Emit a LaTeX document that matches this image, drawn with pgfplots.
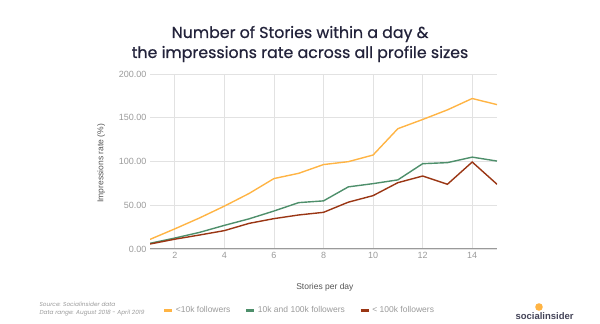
\documentclass[border=0pt]{standalone}
\usepackage{fontspec}
\setmainfont{Liberation Sans}
\newfontfamily\titlefont{Poppins}[FakeBold=0.6]
\newfontfamily\srcfont{Poppins}
\usepackage{pgfplots}
\pgfplotsset{compat=1.18}
\definecolor{corange}{HTML}{FFB444}
\definecolor{cgreen}{HTML}{4E8F6B}
\definecolor{cred}{HTML}{9A3614}
\definecolor{ctitle}{HTML}{22223A}
\definecolor{cgrid}{HTML}{E2E2E2}
\definecolor{ctick}{HTML}{9A9A9A}
\definecolor{clabel}{HTML}{555555}
\begin{document}
\begin{tikzpicture}
\path[use as bounding box] (0,0) rectangle (600bp,324bp);
\node[font=\titlefont\fontsize{15.8bp}{18bp}\selectfont, text=ctitle, align=center] at (300bp,280bp) {Number of Stories within a day \&\\[2bp]the impressions rate across all profile sizes};
\begin{axis}[
  at={(150bp,75bp)}, anchor=south west,
  scale only axis, width=347bp, height=175bp,
  xmin=1, xmax=15, ymin=0, ymax=200,
  xtick={2,4,...,14}, ytick={0,50,...,200},
  grid=major, grid style={cgrid, line width=0.8bp},
  axis line style={draw=none},
  major tick length=0pt,
  tick label style={font=\fontsize{9bp}{10bp}\selectfont, text=ctick},
  /pgf/number format/assume math mode=true,
  yticklabel style={/pgf/number format/.cd, fixed, fixed zerofill, precision=2},
  xticklabel style={/pgf/number format/.cd, fixed, precision=0},
  ylabel={Impressions rate (\%)},
  ylabel style={at={(axis description cs:-0.141,0.49)}, anchor=center, font=\fontsize{8.5bp}{10bp}\selectfont, text=clabel},
  xlabel={Stories per day},
  xlabel style={at={(axis description cs:0.504,-0.217)}, anchor=center, font=\fontsize{8.5bp}{10bp}\selectfont, text=clabel},
  legend columns=3,
  legend style={at={(axis description cs:0.43,-0.35)}, anchor=center, draw=none, fill=none,
    font=\fontsize{8.5bp}{10bp}\selectfont, text=ctick,
    /tikz/every even column/.append style={column sep=12bp}},
  legend image code/.code={\draw[line width=3.5bp] (0bp,0bp) -- (8bp,0bp);},
]
\addplot[corange, line width=1.4bp] coordinates {
(1,11) (2,23) (3,35.5) (4,49) (5,63.5) (6,80.5) (7,86.5) (8,96.5) (9,99.8) (10,107.4) (11,137.5) (12,148) (13,159) (14,172) (15,165)};
\addlegendentry{<10k followers}
\addplot[cgreen, line width=1.4bp] coordinates {
(1,6.5) (2,12.5) (3,19) (4,27) (5,34.5) (6,43.4) (7,53) (8,55) (9,71) (10,74.7) (11,79) (12,97.5) (13,98.7) (14,105) (15,100.5)};
\addlegendentry{10k and 100k followers}
\addplot[cred, line width=1.4bp] coordinates {
(1,5.7) (2,11.2) (3,16) (4,21) (5,29.3) (6,34.7) (7,38.9) (8,41.9) (9,53.5) (10,61) (11,75.8) (12,83.4) (13,74) (14,99.4) (15,74)};
\addlegendentry{< 100k followers}
\draw[ctick, line width=1.5bp] (axis cs:1,0) -- (axis cs:15,0);
\end{axis}
\node[anchor=west, font=\srcfont\itshape\fontsize{5.8bp}{8.5bp}\selectfont, text=ctick, align=left] at (36bp,15bp) {Source: Socialinsider data\\Data range: August 2018 - April 2019};
\fill[corange] (539bp,17bp) circle (3.8bp);
\node[anchor=west, font=\bfseries\fontsize{9.5bp}{10bp}\selectfont, text=ctitle!85] at (512bp,8bp) {socialinsider};
\end{tikzpicture}
\end{document}
